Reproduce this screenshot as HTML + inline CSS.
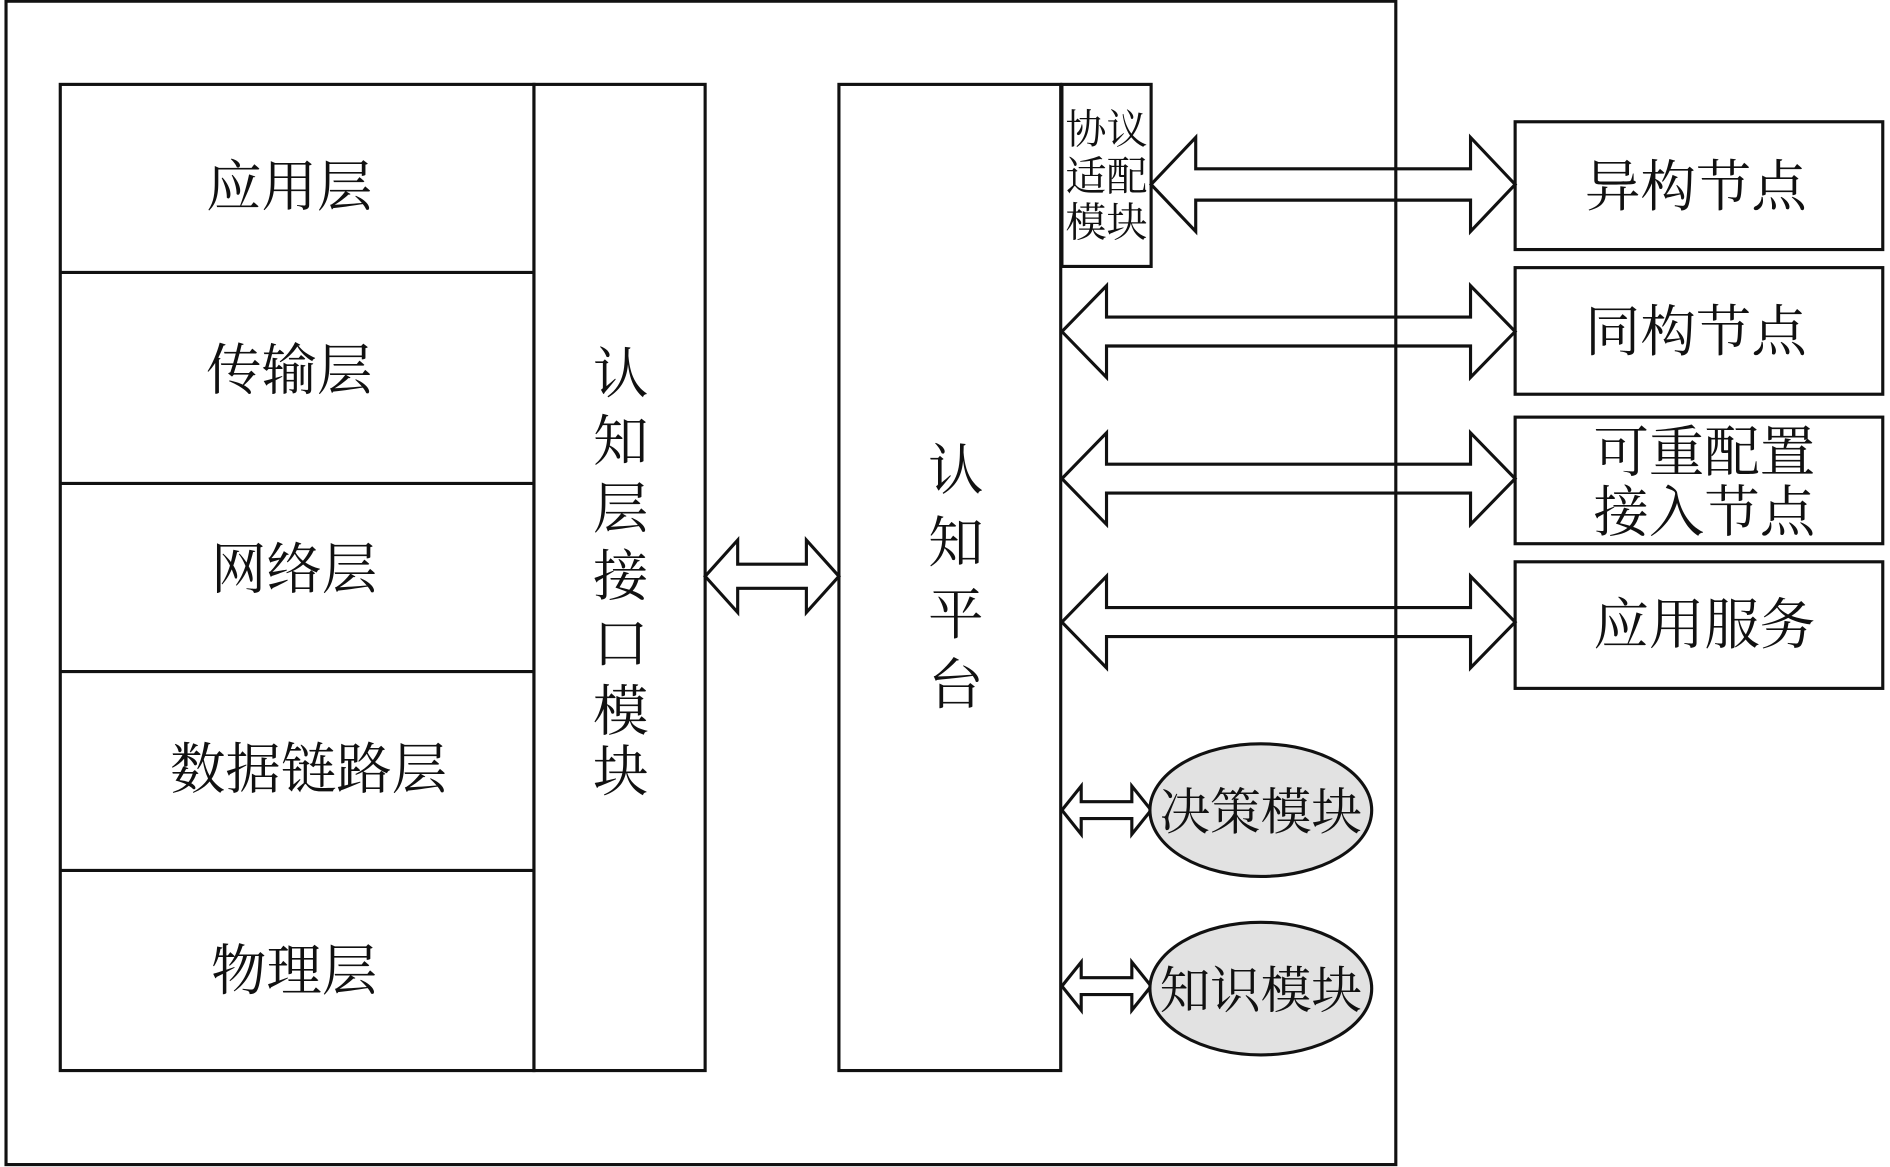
<!DOCTYPE html>
<html><head><meta charset="utf-8"><style>
html,body{margin:0;padding:0;background:#fff;}
svg{display:block;}
text{font-family:"Liberation Serif","Noto Serif CJK SC",serif;fill:#111;}
</style></head><body>
<svg width="1890" height="1167" viewBox="0 0 1568 968" preserveAspectRatio="none" xmlns="http://www.w3.org/2000/svg">
<g fill="#fff" stroke="#111" stroke-width="2.6">
<rect x="5" y="1" width="1153" height="965"/>
<rect x="50" y="70" width="393" height="818"/>
<line x1="50" y1="226" x2="443" y2="226"/>
<line x1="50" y1="401" x2="443" y2="401"/>
<line x1="50" y1="557" x2="443" y2="557"/>
<line x1="50" y1="722" x2="443" y2="722"/>
<rect x="443" y="70" width="142" height="818"/>
<rect x="696" y="70" width="184" height="818"/>
<rect x="881" y="70" width="74" height="151"/>
<rect x="1257" y="101" width="305" height="106"/>
<rect x="1257" y="222" width="305" height="105"/>
<rect x="1257" y="346" width="305" height="105"/>
<rect x="1257" y="466" width="305" height="105"/>
</g>
<g fill="none" stroke="#111" stroke-width="2.6">
<polygon points="955,153 992,114 992,140 1220,140 1220,114 1257,153 1220,192 1220,166 992,166 992,192"/>
<polygon points="881,275 918,237 918,263 1220,263 1220,237 1257,275 1220,313 1220,287 918,287 918,313"/>
<polygon points="881,397 918,359 918,385 1220,385 1220,359 1257,397 1220,435 1220,409 918,409 918,435"/>
<polygon points="881,516 918,478 918,504 1220,504 1220,478 1257,516 1220,554 1220,528 918,528 918,554"/>
<polygon points="585,478 612,448 612,468 669,468 669,448 696,478 669,508 669,488 612,488 612,508"/>
<polygon points="881,672 897,652 897,665 939,665 939,652 955,672 939,692 939,679 897,679 897,692"/>
<polygon points="881,818 897,798 897,811 939,811 939,798 955,818 939,838 939,825 897,825 897,838"/>
</g>
<g stroke="#111" stroke-width="2.6" fill="#e2e2e2">
<ellipse cx="1046" cy="672" rx="92" ry="55"/>
<ellipse cx="1046" cy="820" rx="92" ry="55"/>
</g>
<g font-size="46" text-anchor="middle">
<text x="240" y="171">应用层</text>
<text x="240" y="323">传输层</text>
<text x="244" y="488">网络层</text>
<text x="256" y="654">数据链路层</text>
<text x="244" y="821">物理层</text>
<text x="1407" y="171">异构节点</text>
<text x="1407" y="291">同构节点</text>
<text x="1414" y="391">可重配置</text>
<text x="1414" y="441">接入节点</text>
<text x="1414" y="534">应用服务</text>
</g>
<g font-size="46" text-anchor="middle">
<text x="515" y="326">认</text><text x="515" y="382">知</text><text x="515" y="438">层</text><text x="515" y="494">接</text><text x="515" y="550">口</text><text x="515" y="606">模</text><text x="515" y="656">块</text>
<text x="793" y="406">认</text><text x="793" y="466">知</text><text x="793" y="526">平</text><text x="793" y="584">台</text>
</g>
<g font-size="34" text-anchor="middle">
<text x="918" y="119">协议</text><text x="918" y="158">适配</text><text x="918" y="196">模块</text>
</g>
<g font-size="42" text-anchor="middle">
<text x="1046" y="688">决策模块</text>
<text x="1046" y="836">知识模块</text>
</g>
</svg>
</body></html>
